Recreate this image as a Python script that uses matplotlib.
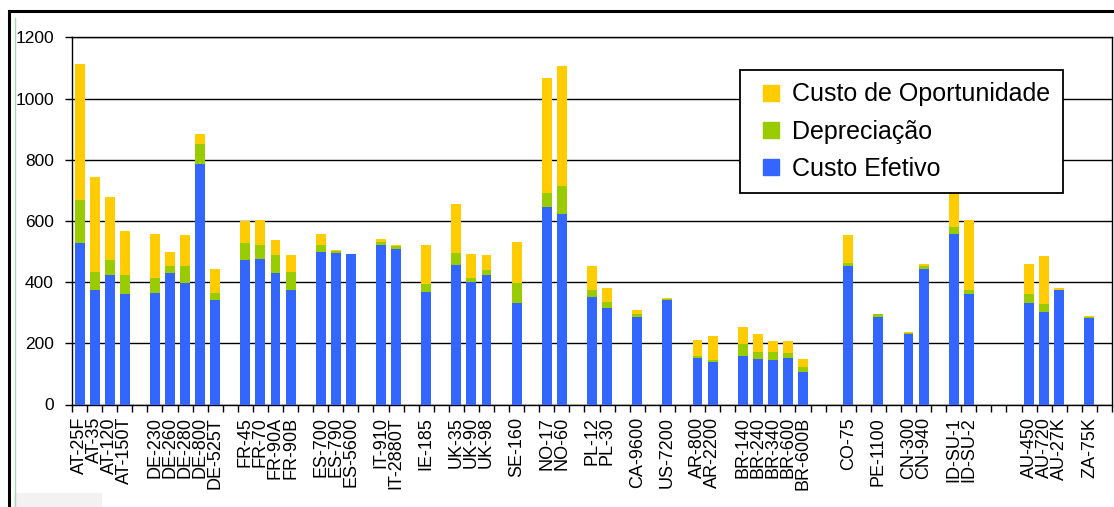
import matplotlib.pyplot as plt
import matplotlib.patches as mpatches
from matplotlib.lines import Line2D
import numpy as np

plt.rcParams['font.family'] = ['Liberation Sans', 'DejaVu Sans']

# categorias (strings vazias = espacos entre paises)
labels = ["AT-25F", "AT-35", "AT-120", "AT-150T", "",
          "DE-230", "DE-260", "DE-280", "DE-800", "DE-525T", "",
          "FR-45", "FR-70", "FR-90A", "FR-90B", "",
          "ES-700", "ES-790", "ES-5600", "",
          "IT-910", "IT-2880T", "",
          "IE-185", "",
          "UK-35", "UK-90", "UK-98", "",
          "SE-160", "",
          "NO-17", "NO-60", "",
          "PL-12", "PL-30", "",
          "CA-9600", "",
          "US-7200", "",
          "AR-800", "AR-2200", "",
          "BR-140", "BR-240", "BR-340", "BR-600", "BR-600B", "", "",
          "CO-75", "",
          "PE-1100", "",
          "CN-300", "CN-940", "",
          "ID-SU-1", "ID-SU-2", "", "", "",
          "AU-450", "AU-720", "AU-27K", "",
          "ZA-75K", ""]

custo_efetivo = [528, 375, 425, 360, 0,
                 364, 430, 397, 785, 343, 0,
                 471, 476, 430, 375, 0,
                 500, 495, 493, 0,
                 521, 508, 0,
                 369, 0,
                 456, 401, 425, 0,
                 332, 0,
                 646, 624, 0,
                 351, 314, 0,
                 286, 0,
                 341, 0,
                 153, 140, 0,
                 157, 148, 144, 153, 107, 0, 0,
                 454, 0,
                 286, 0,
                 231, 443, 0,
                 559, 360, 0, 0, 0,
                 332, 301, 373, 0,
                 283, 0]

depreciacao = [142, 59, 46, 65, 0,
               48, 24, 57, 68, 21, 0,
               57, 45, 59, 59, 0,
               21, 7, 0, 0,
               11, 9, 0,
               24, 0,
               39, 11, 16, 0,
               65, 0,
               46, 92, 0,
               24, 20, 0,
               9, 0,
               4, 0,
               4, 4, 0,
               42, 24, 28, 15, 15, 0, 0,
               9, 0,
               9, 0,
               3, 11, 0,
               21, 15, 0, 0, 0,
               28, 26, 3, 0,
               3, 0]

custo_oportunidade = [443, 310, 208, 142, 0,
                      147, 46, 100, 33, 79, 0,
                      72, 83, 50, 55, 0,
                      38, 2, 0, 0,
                      9, 4, 0,
                      128, 0,
                      162, 81, 48, 0,
                      133, 0,
                      375, 392, 0,
                      79, 46, 0,
                      15, 0,
                      2, 0,
                      55, 79, 0,
                      56, 59, 37, 41, 26, 0, 0,
                      91, 0,
                      2, 0,
                      4, 4, 0,
                      190, 229, 0, 0, 0,
                      100, 157, 4, 0,
                      2, 0]

AZUL = "#3366FF"
VERDE = "#99CC00"
AMARELO = "#FFCC00"

x = np.arange(len(labels))
base2 = np.array(custo_efetivo) + np.array(depreciacao)

fig = plt.figure(figsize=(11.14, 5.07), dpi=100)
ax = fig.add_axes([72 / 1114, (507 - 404.5) / 507, 1040 / 1114, 367 / 507])

w = 0.66
ax.bar(x, custo_efetivo, w, color=AZUL, zorder=3)
ax.bar(x, depreciacao, w, bottom=custo_efetivo, color=VERDE, zorder=3)
ax.bar(x, custo_oportunidade, w, bottom=base2, color=AMARELO, zorder=3)

ax.set_xlim(-0.5, len(labels) - 0.5)
ax.set_ylim(0, 1200)
ax.set_yticks(np.arange(0, 1201, 200))
ax.yaxis.grid(True, color="black", linewidth=1.0, zorder=0)
ax.set_axisbelow(True)

ax.set_xticks(x)
ax.set_xticklabels(labels, rotation=90, fontsize=13, va="top", ha="center")
ax.set_xticks(np.arange(-0.5, len(labels), 1), minor=True)
ax.tick_params(axis="x", which="major", length=0, pad=9)
ax.tick_params(axis="x", which="minor", length=5, width=1, direction="out")
ax.tick_params(axis="y", length=5, width=1, direction="out", labelsize=12.5, pad=8)

for s in ax.spines.values():
    s.set_color("black")
    s.set_linewidth(1.0)

# legenda: quadrados pequenos como no Excel
handles = [Line2D([], [], marker="s", linestyle="", markersize=11.5,
                  markerfacecolor=c, markeredgecolor=c)
           for c in (AMARELO, VERDE, AZUL)]
nomes = ["Custo de Oportunidade", "Depreciação", "Custo Efetivo"]
leg = fig.legend(handles, nomes, loc="upper left",
                 bbox_to_anchor=(740 / 1114, (507 - 70) / 507),
                 fontsize=18, frameon=True, fancybox=False, framealpha=1,
                 edgecolor="black", handlelength=1.5, handletextpad=0.1,
                 labelspacing=0.52, borderpad=0.5, borderaxespad=0)
leg.get_frame().set_linewidth(1.3)
leg.set_zorder(10)

# moldura externa
fig.patches.append(mpatches.Rectangle((9 / 1114, -0.1), 1.2, (507 - 11) / 507 + 0.1,
                                      transform=fig.transFigure, fill=False,
                                      edgecolor="black", linewidth=2.2))
fig.lines.append(plt.Line2D([15 / 1114, 15 / 1114], [0, (507 - 18) / 507],
                            transform=fig.transFigure, color="#a8d8b4", linewidth=1))
fig.patches.append(mpatches.Rectangle((14 / 1114, 0), 88 / 1114, 14 / 507,
                                      transform=fig.transFigure, facecolor="#f2f2f2",
                                      edgecolor="none"))

fig.savefig("out.png", dpi=100)
